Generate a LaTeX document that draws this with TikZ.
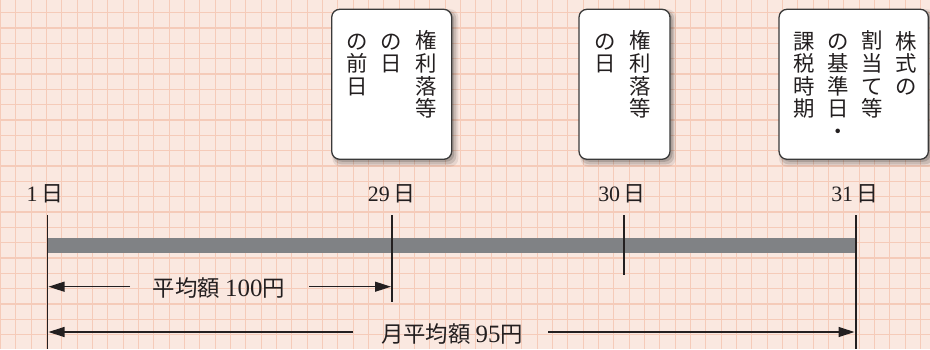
\documentclass[tikz,border=0pt]{standalone}
\usepackage{fontspec}
\setmainfont{Liberation Serif}
\newfontfamily\cjk{Noto Sans CJK JP}
\usetikzlibrary{arrows.meta,shadows}
\definecolor{bgpink}{HTML}{FAE8E0}
\definecolor{gridc}{HTML}{F5CBB9}
\definecolor{barc}{HTML}{808285}
\definecolor{ink}{HTML}{231F20}
\definecolor{boxline}{HTML}{3A3A3A}
\begin{document}
\begin{tikzpicture}[x=1bp,y=1bp,
  gridline/.style={draw=gridc,line width=1.2bp},
  tick/.style={draw=ink,line width=1.3bp},
  timebar/.style={draw=barc,line width=15bp},
  dayl/.style={anchor=base,inner sep=0pt,text=ink,font=\fontsize{22}{24}\selectfont},
  suml/.style={anchor=base,inner sep=0pt,text=ink,font=\cjk\fontsize{22.5}{26}\selectfont},
  dig/.style={},
  arr/.style={draw=ink,line width=1.2bp,-{Triangle[length=16bp,width=10bp]}},
  card/.style={draw=boxline,line width=1.3bp,fill=white,rounded corners=8bp,
    minimum height=150bp,inner sep=0pt,
    general shadow={shadow xshift=3.5bp,shadow yshift=-3.5bp,fill=black,opacity=0.08,shadow scale=1.05},
    general shadow={shadow xshift=3bp,shadow yshift=-3bp,fill=black,opacity=0.12,shadow scale=1.025},
    general shadow={shadow xshift=2.5bp,shadow yshift=-2.5bp,fill=black,opacity=0.15}},
  vcol/.style={anchor=north,inner sep=0pt,align=center,text=ink,
    font=\cjk\fontsize{21.5}{22.7}\selectfont}
]
\useasboundingbox (0,0) rectangle (930,349);
\fill[bgpink] (0,0) rectangle (930,349);
\begin{scope}
\clip (0,0) rectangle (930,349);
\foreach \i in {0,...,60} \draw[gridline] ({0.5+15.333*\i},0) -- ({0.5+15.333*\i},349);
\foreach \j in {0,...,21} \draw[gridline] (0,{14.4+15.333*\j}) -- (930,{14.4+15.333*\j});
\end{scope}

% cards
\node[card,minimum width=120bp] (b1) at (391.7,264.7) {};
\node[card,minimum width=91bp] (b2) at (624.5,264.7) {};
\node[card,minimum width=149.3bp] (b3) at (853.7,264.7) {};

\node[vcol] (c11) at (426,318.5) {\rule{0pt}{18.3bp}権\\利\\落\\等};
\node[vcol] (c12) at (391.7,318.5) {\rule{0pt}{18.3bp}の\\日};
\node[vcol] (c13) at (357.7,318.5) {\rule{0pt}{18.3bp}の\\前\\日};

\node[vcol] (c21) at (640,318.5) {\rule{0pt}{18.3bp}権\\利\\落\\等};
\node[vcol] (c22) at (605.7,318.5) {\rule{0pt}{18.3bp}の\\日};

\node[vcol] (c31) at (905.7,318.5) {\rule{0pt}{18.3bp}株\\式\\の};
\node[vcol] (c32) at (872.3,318.5) {\rule{0pt}{18.3bp}割\\当\\て\\等};
\node[vcol] (c33) at (838.3,318.5) {\rule{0pt}{18.3bp}の\\基\\準\\日\\・};
\node[vcol] (c34) at (804.3,318.5) {\rule{0pt}{18.3bp}課\\税\\時\\期};

% time line
\coordinate (barl) at (47.3,104);
\coordinate (barr) at (856,104);
\draw[timebar] (barl) -- (barr);

\coordinate (d1t) at (47.3,134);  \coordinate (d1b) at (47.3,0);
\coordinate (d29t) at (392,134);  \coordinate (d29b) at (392,47);
\coordinate (d30t) at (624,134);  \coordinate (d30b) at (624,74);
\coordinate (d31t) at (856,134);  \coordinate (d31b) at (856,0);
\draw[tick] (d1t) -- (d1b);
\draw[tick] (d29t) -- (d29b);
\draw[tick] (d30t) -- (d30b);
\draw[tick] (d31t) -- (d31b);

\node[dayl] (l1) at (45,147.3) {1\,{\cjk 日}};
\node[dayl] (l29) at (391.7,147.3) {29\,{\cjk 日}};
\node[dayl] (l30) at (622,147.3) {30\,{\cjk 日}};
\node[dayl] (l31) at (855,147.3) {31\,{\cjk 日}};

% averages
\node[suml] (t1) at (219,52.3) {平均額 {\rmfamily\fontsize{25}{26}\selectfont 100}円};
\coordinate (a1ls) at (130,62.3);   \coordinate (a1le) at (48.5,62.3);
\coordinate (a1rs) at (309.3,62.3); \coordinate (a1re) at (391,62.3);
\draw[arr] (a1ls) -- (a1le);
\draw[arr] (a1rs) -- (a1re);

\node[suml] (t2) at (452,6.3) {月平均額 {\rmfamily\fontsize{25}{26}\selectfont 95}円};
\coordinate (a2ls) at (353,17);  \coordinate (a2le) at (48.5,17);
\coordinate (a2rs) at (548,17);  \coordinate (a2re) at (854.5,17);
\draw[arr] (a2ls) -- (a2le);
\draw[arr] (a2rs) -- (a2re);
\end{tikzpicture}
\end{document}
